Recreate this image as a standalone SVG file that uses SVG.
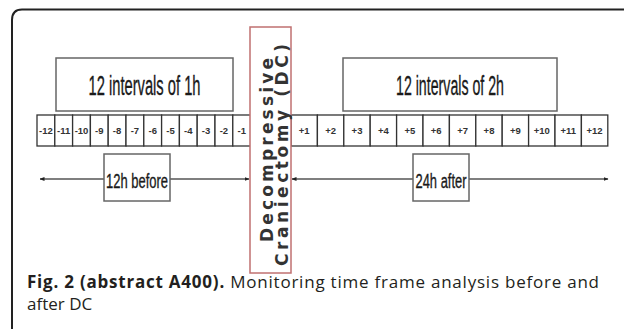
<svg xmlns="http://www.w3.org/2000/svg" width="624" height="329" viewBox="0 0 624 329">
<defs>
<style>
.lbl{font-family:"Liberation Sans",Arial,sans-serif;fill:#1a1a1a;stroke:#1a1a1a;stroke-width:0.35;text-anchor:middle}
.box{fill:#fff;stroke:#666;stroke-width:1.5}
.cell{fill:#fff;stroke:#333;stroke-width:1.3}
.num{font-family:"Liberation Sans",Arial,sans-serif;font-size:9.5px;font-weight:bold;fill:#333;text-anchor:middle}
.arr{stroke:#555;stroke-width:1.5;fill:none}
.cap{font-family:"Open Sans","Noto Sans",sans-serif;font-size:17px;fill:#231f20}
.dct{font-family:"DejaVu Sans",Verdana,sans-serif;font-weight:bold;font-size:17px;fill:#333;text-anchor:middle}
</style>
<marker id="ah" viewBox="0 0 10 10" refX="9" refY="5" markerWidth="5" markerHeight="5" orient="auto-start-reverse" markerUnits="userSpaceOnUse">
<path d="M0,1 L10,5 L0,9 Z" fill="#222"/>
</marker>
</defs>
<rect width="624" height="329" fill="#fff"/>
<path d="M12,329 L12,20 Q12,9.5 22,9.5 L624,9.5" fill="none" stroke="#222" stroke-width="2"/>

<g id="connectors">
<line class="arr" x1="40" y1="179" x2="249" y2="179" marker-start="url(#ah)" marker-end="url(#ah)"/>
<line class="arr" x1="292" y1="179" x2="608" y2="179" marker-start="url(#ah)" marker-end="url(#ah)"/>
</g>

<g id="strip-before">
<rect class="cell" x="37" y="115" width="17.8" height="31"/>
<rect class="cell" x="54.8" y="115" width="17.8" height="31"/>
<rect class="cell" x="72.6" y="115" width="17.8" height="31"/>
<rect class="cell" x="90.4" y="115" width="17.8" height="31"/>
<rect class="cell" x="108.2" y="115" width="17.8" height="31"/>
<rect class="cell" x="126" y="115" width="17.8" height="31"/>
<rect class="cell" x="143.8" y="115" width="17.8" height="31"/>
<rect class="cell" x="161.6" y="115" width="17.8" height="31"/>
<rect class="cell" x="179.4" y="115" width="17.8" height="31"/>
<rect class="cell" x="197.2" y="115" width="17.8" height="31"/>
<rect class="cell" x="215" y="115" width="17.8" height="31"/>
<rect class="cell" x="232.8" y="115" width="17.8" height="31"/>
<text class="num" x="45.9" y="134">-12</text>
<text class="num" x="63.7" y="134">-11</text>
<text class="num" x="81.5" y="134">-10</text>
<text class="num" x="99.3" y="134">-9</text>
<text class="num" x="117.1" y="134">-8</text>
<text class="num" x="134.9" y="134">-7</text>
<text class="num" x="152.7" y="134">-6</text>
<text class="num" x="170.5" y="134">-5</text>
<text class="num" x="188.3" y="134">-4</text>
<text class="num" x="206.1" y="134">-3</text>
<text class="num" x="223.9" y="134">-2</text>
<text class="num" x="241.7" y="134">-1</text>
</g>

<g id="strip-after">
<rect class="cell" x="291" y="115" width="26.4" height="31"/>
<rect class="cell" x="317.4" y="115" width="26.4" height="31"/>
<rect class="cell" x="343.8" y="115" width="26.4" height="31"/>
<rect class="cell" x="370.2" y="115" width="26.4" height="31"/>
<rect class="cell" x="396.6" y="115" width="26.4" height="31"/>
<rect class="cell" x="423" y="115" width="26.4" height="31"/>
<rect class="cell" x="449.4" y="115" width="26.4" height="31"/>
<rect class="cell" x="475.8" y="115" width="26.4" height="31"/>
<rect class="cell" x="502.2" y="115" width="26.4" height="31"/>
<rect class="cell" x="528.6" y="115" width="26.4" height="31"/>
<rect class="cell" x="555" y="115" width="26.4" height="31"/>
<rect class="cell" x="581.4" y="115" width="26.4" height="31"/>
<text class="num" x="304.2" y="134">+1</text>
<text class="num" x="330.6" y="134">+2</text>
<text class="num" x="357" y="134">+3</text>
<text class="num" x="383.4" y="134">+4</text>
<text class="num" x="409.8" y="134">+5</text>
<text class="num" x="436.2" y="134">+6</text>
<text class="num" x="462.6" y="134">+7</text>
<text class="num" x="489" y="134">+8</text>
<text class="num" x="515.4" y="134">+9</text>
<text class="num" x="541.8" y="134">+10</text>
<text class="num" x="568.2" y="134">+11</text>
<text class="num" x="594.6" y="134">+12</text>
</g>

<g id="intervals-1h">
<rect class="box" x="56" y="58" width="177" height="53"/>
<text class="lbl" x="144.5" y="95" font-size="27" textLength="112" lengthAdjust="spacingAndGlyphs">12 intervals of 1h</text>
</g>

<g id="intervals-2h">
<rect class="box" x="343" y="58" width="214" height="53"/>
<text class="lbl" x="450" y="95" font-size="27" textLength="108" lengthAdjust="spacingAndGlyphs">12 intervals of 2h</text>
</g>

<g id="before">
<rect class="box" x="104" y="154" width="66" height="47"/>
<text class="lbl" x="137" y="188" font-size="20" textLength="62" lengthAdjust="spacingAndGlyphs">12h before</text>
</g>

<g id="after">
<rect class="box" x="413" y="154" width="56" height="47"/>
<text class="lbl" x="441" y="188" font-size="20" textLength="51" lengthAdjust="spacingAndGlyphs">24h after</text>
</g>

<g id="dc">
<rect x="250" y="27" width="41" height="246" fill="#fff" stroke="#c07070" stroke-width="1.5"/>
<text class="dct" transform="translate(273,150) rotate(-90)" textLength="184" lengthAdjust="spacing">Decompressive</text>
<text class="dct" transform="translate(288,155) rotate(-90)" textLength="222" lengthAdjust="spacing">Craniectomy (DC)</text>
</g>

<g id="caption">
<text class="cap" x="27" y="288" textLength="572" lengthAdjust="spacing"><tspan font-weight="bold">Fig. 2 (abstract A400).</tspan> Monitoring time frame analysis before and</text>
<text class="cap" x="27" y="310">after DC</text>
</g>
</svg>
